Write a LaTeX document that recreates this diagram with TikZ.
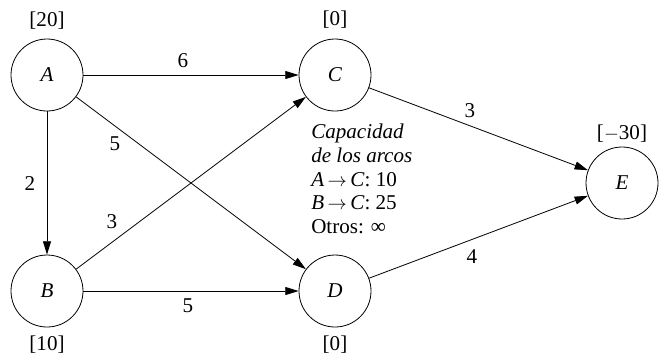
\documentclass[tikz,border=0pt]{standalone}
\usepackage{fontspec}
\setmainfont{Liberation Serif}
\usetikzlibrary{arrows.meta}

\begin{document}
\begin{tikzpicture}[x=0.75pt,y=-0.75pt,
  every node/.style={font=\fontsize{15.8}{17.7}\selectfont},
  vertex/.style={draw,circle,minimum size=54pt,inner sep=0pt,line width=0.6pt},
  arc/.style={-{Triangle[length=10pt,width=6pt]},line width=0.6pt}]
\useasboundingbox (0,0) rectangle (659,355);
% nodos
\node[vertex] (A) at (47,75) {\textit{A}};
\node[vertex] (C) at (335,75) {\textit{C}};
\node[vertex] (B) at (47,291) {\textit{B}};
\node[vertex] (D) at (335,291) {\textit{D}};
\node[vertex] (E) at (622,183) {\textit{E}};
% ofertas y demandas
\node (sA) at (47,21) {[20]};
\node (sC) at (335,20) {[0]};
\node (sB) at (47,345) {[10]};
\node (sD) at (335,345) {[0]};
\node (sE) at (622,134) {[$-$30]};
% arcos
\draw[arc] (A) -- (C);
\draw[arc] (A) -- (D);
\draw[arc] (A) -- (B);
\draw[arc] (B) -- (C);
\draw[arc] (B) -- (D);
\draw[arc] (C) -- (E);
\draw[arc] (D) -- (E);
% costos
\node (cAC) at (183,61) {6};
\node (cAD) at (115,144) {5};
\node (cAB) at (30,184) {2};
\node (cBC) at (112,222) {3};
\node (cBD) at (188,306) {5};
\node (cCE) at (470,111) {3};
\node (cDE) at (472,257) {4};
% capacidades
\node[anchor=north west,inner sep=0pt,align=left] (cap) at (311,124)
  {\textit{Capacidad}\\ \textit{de los arcos}\\
   \textit{A}\,$\rightarrow$\,\textit{C}: 10\\
   \textit{B}\,$\rightarrow$\,\textit{C}: 25\\
   Otros: ∞};
\end{tikzpicture}
\end{document}
